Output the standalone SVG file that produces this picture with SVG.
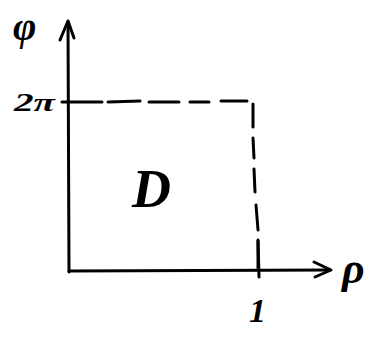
<svg xmlns="http://www.w3.org/2000/svg" width="374" height="338" viewBox="0 0 374 338">
  <style>
    .ax { stroke: #000; stroke-width: 3; fill: none; stroke-linecap: round; stroke-linejoin: round; }
    .dash { stroke: #000; stroke-width: 3; fill: none; stroke-linecap: round; }
    .lbl { font-family: "Liberation Serif", "DejaVu Serif", serif; font-style: italic; font-weight: bold; fill: #000; }
  </style>
  <rect width="374" height="338" fill="#fff"/>
  <g id="connectors">
    <g id="axis-phi">
      <path class="ax" d="M69 272 L68 22"/>
      <path class="ax" d="M60 40 L68 21 L74 38"/>
    </g>
    <g id="axis-rho">
      <path class="ax" d="M69 271 L330 270"/>
      <path class="ax" d="M314 262 L331 270 L315 277"/>
    </g>
    <g id="tick-2pi">
      <path class="ax" d="M62 102 L102 102"/>
    </g>
    <g id="tick-1">
      <path class="ax" d="M258 240 L259 277"/>
    </g>
    <g id="region-boundary">
      <path class="dash" d="M108 102 L140 101"/>
      <path class="dash" d="M149 102 L179 102"/>
      <path class="dash" d="M190 102 L209 102"/>
      <path class="dash" d="M221 101 L247 101"/>
      <path class="dash" d="M253 104 L253 127"/>
      <path class="dash" d="M253 138 L254 158"/>
      <path class="dash" d="M254 169 L255 192"/>
      <path class="dash" d="M256 205 L258 230"/>
      <path class="dash" d="M258 241 L258 268"/>
    </g>
  </g>
  <g id="label-phi"><text class="lbl" x="13" y="40" font-size="40">φ</text></g>
  <g id="label-2pi"><text class="lbl" x="14" y="111" font-size="26" textLength="41" lengthAdjust="spacingAndGlyphs">2π</text></g>
  <g id="label-D"><text class="lbl" x="132" y="207" font-size="54">D</text></g>
  <g id="label-rho"><text class="lbl" x="342" y="283" font-size="44">ρ</text></g>
  <g id="label-1"><text class="lbl" x="249" y="322" font-size="34">1</text></g>
</svg>
